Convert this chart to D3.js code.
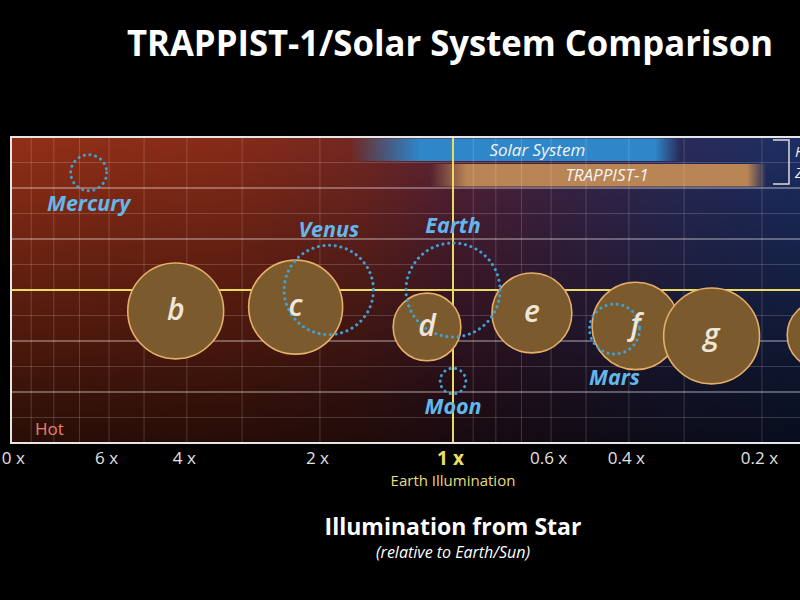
<!DOCTYPE html>
<html>
<head>
<meta charset="utf-8">
<script src="https://cdn.jsdelivr.net/npm/d3@7/dist/d3.min.js"></script>
<style>
  html, body { margin: 0; padding: 0; background: #000; }
  svg { display: block; font-family: "Open Sans", "Noto Sans", sans-serif; }
</style>
</head>
<body>
<svg id="chart" width="800" height="600"></svg>
<script>
// ---------- DATA ----------
const tickValues = [10, 6, 4, 2, 1, 0.6, 0.4, 0.2];
const tickLabels = ["10 x", "6 x", "4 x", "2 x", "1 x", "0.6 x", "0.4 x", "0.2 x"];

const trappistNames  = ["b", "c", "d", "e", "f", "g", "h"];
const trappistIllum  = [4.24, 2.27, 1.145, 0.663, 0.386, 0.26, 0.147];
const trappistRadius = [1.02, 1.0, 0.72, 0.85, 0.93, 1.02, 0.72];
const trappistRow    = [5.18, 5.33, 4.55, 5.1, 4.59, 4.2, 4.24];

const solarNames  = ["Mercury", "Venus", "Earth", "Moon", "Mars"];
const solarIllum  = [6.67, 1.91, 1.0, 1.0, 0.431];
const solarRadius = [0.383, 0.95, 1.0, 0.273, 0.532];
const solarRow    = [10.6, 6.0, 6.0, 2.43, 4.47];

const hzNames     = ["Solar System", "TRAPPIST-1"];
const hzFadeStart = [1.71, 1.127];
const hzSolidStart= [1.19, 0.93];
const hzSolidEnd  = [0.349, 0.216];
const hzFadeEnd   = [0.306, 0.195];
const hzRowTop    = [12, 11];

// ---------- LAYOUT ----------
const svg = d3.select("#chart");
const W = 800, H = 600;
const plot = { left: 11, right: 895, top: 137, bottom: 443 };

svg.append("rect").attr("width", W).attr("height", H).attr("fill", "#000");

const x = d3.scaleLog().domain([10, 0.1]).range([plot.left, plot.right]);
const y = d3.scaleLinear().domain([0, 12]).range([plot.bottom, plot.top]);
const r = d3.scaleLinear().domain([0, 1]).range([0, 47]);

const defs = svg.append("defs");
const hg = defs.append("linearGradient").attr("id", "bgH")
  .attr("gradientUnits", "userSpaceOnUse")
  .attr("x1", plot.left).attr("x2", plot.right).attr("y1", 0).attr("y2", 0);
[[0, "#922f16"], [0.25, "#872b18"], [0.4, "#722722"], [0.5, "#572238"], [0.62, "#3e2548"],
 [0.75, "#2b2b5a"], [0.88, "#1e2e63"], [1, "#1a3068"]]
  .forEach(([o, c]) => hg.append("stop").attr("offset", o).attr("stop-color", c));
const vg = defs.append("linearGradient").attr("id", "bgV")
  .attr("x1", 0).attr("x2", 0).attr("y1", 0).attr("y2", 1);
vg.append("stop").attr("offset", 0).attr("stop-color", "#000").attr("stop-opacity", 0.0);
vg.append("stop").attr("offset", 1).attr("stop-color", "#000").attr("stop-opacity", 0.72);

const clip = defs.append("clipPath").attr("id", "plotClip");
clip.append("rect").attr("x", plot.left).attr("y", plot.top)
  .attr("width", plot.right - plot.left).attr("height", plot.bottom - plot.top);

const g = svg.append("g").attr("clip-path", "url(#plotClip)");
g.append("rect").attr("x", plot.left).attr("y", plot.top)
  .attr("width", plot.right - plot.left).attr("height", plot.bottom - plot.top)
  .attr("fill", "url(#bgH)");
g.append("rect").attr("x", plot.left).attr("y", plot.top)
  .attr("width", plot.right - plot.left).attr("height", plot.bottom - plot.top)
  .attr("fill", "url(#bgV)");

// ---------- HABITABLE ZONE BARS ----------
const hzColors = ["#2f86c8", "#b98555"];
hzNames.forEach((name, i) => {
  const x0 = x(hzFadeStart[i]), x1 = x(hzSolidStart[i]), x2 = x(hzSolidEnd[i]), x3 = x(hzFadeEnd[i]);
  const gid = "hz" + i;
  const lg = defs.append("linearGradient").attr("id", gid)
    .attr("gradientUnits", "userSpaceOnUse").attr("x1", x0).attr("x2", x3).attr("y1", 0).attr("y2", 0);
  const span = x3 - x0;
  lg.append("stop").attr("offset", 0).attr("stop-color", hzColors[i]).attr("stop-opacity", 0);
  lg.append("stop").attr("offset", (x1 - x0) / span).attr("stop-color", hzColors[i]).attr("stop-opacity", 1);
  lg.append("stop").attr("offset", (x2 - x0) / span).attr("stop-color", hzColors[i]).attr("stop-opacity", 1);
  lg.append("stop").attr("offset", 1).attr("stop-color", hzColors[i]).attr("stop-opacity", 0);
  const yt = y(hzRowTop[i]) + 1.5, yb = y(hzRowTop[i] - 1) - 1.5;
  g.append("rect").attr("x", x0).attr("y", yt).attr("width", span).attr("height", yb - yt)
    .attr("fill", `url(#${gid})`);
  g.append("text").attr("x", (x1 + x2) / 2).attr("y", (yt + yb) / 2)
    .attr("dy", "0.35em").attr("text-anchor", "middle")
    .attr("fill", "#f4f4f4").attr("font-size", 17).attr("font-style", "italic")
    .text(name);
});

// ---------- GRID ----------
const rows = d3.range(1, 12);
g.selectAll(".hgrid").data(rows.filter(v => v !== 6)).join("line")
  .attr("x1", plot.left).attr("x2", plot.right)
  .attr("y1", d => y(d)).attr("y2", d => y(d))
  .attr("stroke", "#ffffff")
  .attr("stroke-opacity", d => d % 2 === 0 ? 0.42 : 0.17)
  .attr("stroke-width", d => d % 2 === 0 ? 1.5 : 1);
const vgrid = x.ticks().filter(v => v !== 1 && v !== 10 && v !== 0.1);
g.selectAll(".vgrid").data(vgrid).join("line")
  .attr("x1", d => x(d)).attr("x2", d => x(d))
  .attr("y1", plot.top).attr("y2", plot.bottom)
  .attr("stroke", "#ffffff").attr("stroke-opacity", 0.17).attr("stroke-width", 1);
// Earth reference lines
g.append("line").attr("x1", plot.left).attr("x2", plot.right)
  .attr("y1", y(6)).attr("y2", y(6)).attr("stroke", "#e8da62").attr("stroke-width", 2);
g.append("line").attr("x1", x(1)).attr("x2", x(1))
  .attr("y1", plot.top).attr("y2", plot.bottom).attr("stroke", "#e8da62").attr("stroke-width", 2);

// ---------- TRAPPIST-1 PLANETS ----------
const trappist = trappistNames.map((n, i) => ({ n, x: x(trappistIllum[i]), y: y(trappistRow[i]), r: r(trappistRadius[i]) }));
g.selectAll(".tp").data(trappist).join("circle")
  .attr("cx", d => d.x).attr("cy", d => d.y).attr("r", d => d.r)
  .attr("fill", "#7b5b2e").attr("stroke", "#e6ae6a").attr("stroke-width", 1.6);

// ---------- SOLAR SYSTEM BODIES ----------
const solar = solarNames.map((n, i) => ({ n, x: x(solarIllum[i]), y: y(solarRow[i]), r: r(solarRadius[i]) }));
g.selectAll(".sp").data(solar).join("circle")
  .attr("cx", d => d.x).attr("cy", d => d.y).attr("r", d => d.r)
  .attr("fill", "none").attr("stroke", "#3ea2d6").attr("stroke-width", 3)
  .attr("stroke-linecap", "round").attr("stroke-dasharray", "0.1 5.6");

g.selectAll(".tl").data(trappist).join("text")
  .attr("x", d => d.x).attr("y", d => d.y).attr("dy", "0.3em")
  .attr("text-anchor", "middle").attr("fill", "#eee6da")
  .attr("font-size", 30).attr("font-style", "italic").attr("font-weight", 600)
  .text(d => d.n);

// label placement: side of circle and gap (px)
const labelPlace = { Mercury: [1, 13], Venus: [-1, 16], Earth: [-1, 18], Moon: [1, 13], Mars: [1, 23] };
g.selectAll(".sl").data(solar).join("text")
  .attr("x", d => d.x)
  .attr("y", d => d.y + labelPlace[d.n][0] * (d.r + labelPlace[d.n][1]))
  .attr("dy", "0.35em").attr("text-anchor", "middle")
  .attr("fill", "#62b8ea").attr("font-size", 21.5).attr("font-style", "italic").attr("font-weight", 700)
  .text(d => d.n);

g.append("text").attr("x", 35).attr("y", 435).attr("fill", "#e8806a")
  .attr("font-size", 17).text("Hot");

// ---------- FRAME ----------
svg.append("rect").attr("x", plot.left).attr("y", plot.top)
  .attr("width", plot.right - plot.left).attr("height", plot.bottom - plot.top)
  .attr("fill", "none").attr("stroke", "#e6e6e6").attr("stroke-width", 2);

// habitable-zone bracket
const bx = 789;
svg.append("path")
  .attr("d", `M${bx - 16},${y(12) + 3} H${bx} V${y(10) - 4} H${bx - 16}`)
  .attr("fill", "none").attr("stroke", "#dcdcdc").attr("stroke-width", 1.5);
svg.append("text").attr("x", bx + 6).attr("y", 157).attr("fill", "#eeeeee")
  .attr("font-size", 15).attr("font-style", "italic").text("Habitable");
svg.append("text").attr("x", bx + 6).attr("y", 178).attr("fill", "#eeeeee")
  .attr("font-size", 15).attr("font-style", "italic").text("Zone");

// ---------- AXIS ----------
const axis = d3.axisBottom(x).tickValues(tickValues)
  .tickFormat((d, i) => tickLabels[i]).tickSize(0).tickPadding(9);
const ax = svg.append("g").attr("transform", `translate(0,${plot.bottom})`).call(axis);
ax.select(".domain").remove();
ax.selectAll("text")
  .attr("dx", -3)
  .attr("font-family", "'Open Sans', sans-serif")
  .attr("font-size", d => d === 1 ? 19 : 17)
  .attr("font-weight", d => d === 1 ? 700 : 400)
  .attr("fill", d => d === 1 ? "#f0e060" : "#e2e2e2");

svg.append("text").attr("x", x(1)).attr("y", 486).attr("text-anchor", "middle")
  .attr("fill", "#e8dc78").attr("font-size", 15).text("Earth Illumination");

// ---------- TITLES ----------
svg.append("text").attr("x", 450).attr("y", 56).attr("text-anchor", "middle")
  .attr("fill", "#ffffff").attr("font-size", 35).attr("font-weight", 700)
  .attr("textLength", 646).attr("lengthAdjust", "spacingAndGlyphs")
  .text("TRAPPIST-1/Solar System Comparison");
svg.append("text").attr("x", 453).attr("y", 535).attr("text-anchor", "middle")
  .attr("fill", "#ffffff").attr("font-size", 23).attr("font-weight", 700)
  .text("Illumination from Star");
svg.append("text").attr("x", 453).attr("y", 558).attr("text-anchor", "middle")
  .attr("fill", "#ffffff").attr("font-size", 16).attr("font-style", "italic")
  .text("(relative to Earth/Sun)");
</script>
</body>
</html>
